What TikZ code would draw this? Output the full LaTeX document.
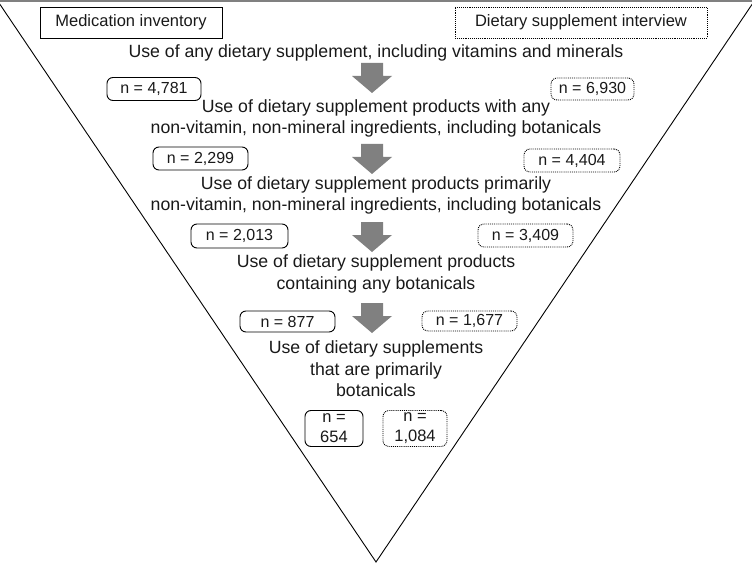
\documentclass[tikz,border=0pt]{standalone}
\usepackage{fontspec}
\setmainfont{Liberation Sans}

\definecolor{arrowgray}{RGB}{128,128,128}
\definecolor{textgray}{RGB}{25,25,25}

\tikzset{
  srcbox/.style={draw, line width=0.9pt, text=textgray, inner sep=0pt},
  medcount/.style={srcbox, rounded corners=6pt, font=\fontsize{16}{18}\selectfont},
  intcount/.style={medcount, densely dotted},
  steptext/.style={align=center, text=textgray, inner sep=0pt,
    font=\fontsize{17.7}{21.5}\selectfont}
}

\begin{document}
\begin{tikzpicture}[x=1pt, y=-1pt, font=\fontsize{16.5}{21.5}\selectfont]
  \useasboundingbox (0,0) rectangle (752,564);

  % funnel
  \draw[line width=0.9pt] (-3,0) -- (376,562) -- (755,0);
  \draw[arrowgray, line width=2pt] (0,1) -- (752,1);

  % sources
  \node[srcbox, minimum width=182pt, minimum height=31pt] (med) at (131,22.5) {Medication inventory};
  \node[srcbox, densely dotted, minimum width=252pt, minimum height=31pt] (int) at (581,22.5) {Dietary supplement interview};

  % levels
  \node[steptext] (s1) at (376,53) {Use of any dietary supplement, including vitamins and minerals};
  \node[steptext] (s2) at (376,118.5) {Use of dietary supplement products with any\\non-vitamin, non-mineral ingredients, including botanicals};
  \node[steptext] (s3) at (376,195.5) {Use of dietary supplement products primarily\\non-vitamin, non-mineral ingredients, including botanicals};
  \node[steptext] (s4) at (376,274) {Use of dietary supplement products\\containing any botanicals};
  \node[steptext] (s5) at (376,369) {Use of dietary supplements\\that are primarily\\botanicals};

  % counts
  \node[medcount, minimum width=94pt, minimum height=23pt] (m1) at (154,89) {n = 4,781};
  \node[intcount, minimum width=83pt, minimum height=22pt] (i1) at (592.5,89) {n = 6,930};
  \node[medcount, minimum width=95pt, minimum height=23pt] (m2) at (200.5,158.5) {n = 2,299};
  \node[intcount, minimum width=96pt, minimum height=23pt] (i2) at (572,160.5) {n = 4,404};
  \node[medcount, minimum width=97pt, minimum height=24pt] (m3) at (239.5,236) {n = 2,013};
  \node[intcount, minimum width=95pt, minimum height=23pt] (i3) at (525.5,235.5) {n = 3,409};
  \node[medcount, minimum width=95pt, minimum height=21pt] (m4) at (287.5,321.5) {n = 877};
  \node[intcount, minimum width=95pt, minimum height=20pt] (i4) at (469.5,321) {n = 1,677};
  \node[medcount, align=center, font=\fontsize{16.5}{20}\selectfont, minimum width=58pt, minimum height=36pt] (m5) at (334,428.5) {n =\\654};
  \node[intcount, align=center, font=\fontsize{16.5}{20}\selectfont, minimum width=64pt, minimum height=36pt] (i5) at (415,428.5) {n =\\1,084};

  % block arrows between levels
  \foreach \y in {63,144,222,303}
    \fill[arrowgray] (361,\y) -- (383,\y) -- (383,\y+13) -- (392,\y+13) -- (372,\y+30)
      -- (352,\y+13) -- (361,\y+13) -- cycle;
\end{tikzpicture}
\end{document}
